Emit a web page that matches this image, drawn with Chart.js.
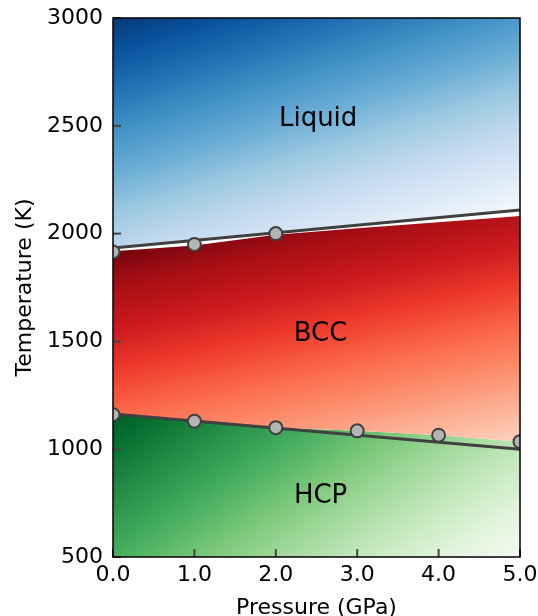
<!DOCTYPE html>
<html>
<head>
<meta charset="utf-8">
<script src="https://cdn.jsdelivr.net/npm/chart.js@4"></script>
<style>
    body { margin: 0; background: #fff; }
    canvas { display: block; }
</style>
</head>
<body>
<canvas id="chart_fases" width="538" height="616"></canvas>
<script>
// eixos
const ticksX = [0, 1, 2, 3, 4, 5];
const ticksY = [500, 1000, 1500, 2000, 2500, 3000];

// pontos calculados
const liquidP = [0, 1, 2];
const liquidT = [1915, 1950, 2000];
const hcpP = [0, 1, 2, 3, 4, 5];
const hcpT = [1160, 1130, 1100, 1085, 1065, 1035];

// retas ajustadas
const fitP = [0, 5];
const fitLiquidT = [1933, 2110];
const fitHcpT = [1163, 1000];

// borda de cima da regiao BCC
const bccTopP = [0, 1, 2, 3, 4, 5];
const bccTopT = [1918, 1945, 1995, 2025, 2053, 2082];

// nomes das fases
const regions = ['Liquid', 'BCC', 'HCP'];
const regionP = [2.52, 2.55, 2.55];
const regionT = [2530, 1532, 780];

const fonte = 'DejaVu Sans';

// colormaps (matplotlib)
const blues = ['#f7fbff', '#deebf7', '#c6dbef', '#9ecae1', '#6baed6', '#4292c6', '#2171b5', '#08519c', '#08306b'];
const reds = ['#fff5f0', '#fee0d2', '#fcbba1', '#fc9272', '#fb6a4a', '#ef3b2c', '#cb181d', '#a50f15', '#67000d'];
const greens = ['#f7fcf5', '#e5f5e0', '#c7e9c0', '#a1d99b', '#74c476', '#41ab5d', '#238b45', '#006d2c', '#00441b'];

function hexRgb(h) {
    return [parseInt(h.slice(1, 3), 16), parseInt(h.slice(3, 5), 16), parseInt(h.slice(5, 7), 16)];
}

function corMapa(mapa, v) {
    v = Math.max(0, Math.min(1, v));
    const p = v * (mapa.length - 1);
    const i = Math.min(Math.floor(p), mapa.length - 2);
    const f = p - i;
    const c1 = hexRgb(mapa[i]);
    const c2 = hexRgb(mapa[i + 1]);
    const c = c1.map((x, k) => Math.round(x + (c2[k] - x) * f));
    return `rgb(${c[0]}, ${c[1]}, ${c[2]})`;
}

// degrade diagonal: v0 no canto (p0, t0), cai a por px em x e b por px em y
function degrade(chart, mapa, p0, t0, v0, a, b) {
    const x0 = chart.scales.x.getPixelForValue(p0);
    const y0 = chart.scales.y.getPixelForValue(t0);
    const k = v0 / (a * a + b * b);
    const g = chart.ctx.createLinearGradient(x0, y0, x0 + a * k, y0 + b * k);
    for (let s = 0; s <= 20; s++) {
        const t = s / 20;
        g.addColorStop(t, corMapa(mapa, v0 * (1 - t)));
    }
    return g;
}

function pts(xs, ys) {
    return xs.map((x, i) => ({ x: x, y: ys[i] }));
}

function semPadding(s) {
    s.paddingTop = 0;
    s.paddingBottom = 0;
    s.paddingLeft = 0;
    s.paddingRight = 0;
}

const molduraPlugin = {
    id: 'moldura',
    afterDraw(chart) {
        const { ctx, chartArea: a, scales } = chart;
        ctx.save();

        // ticks para dentro
        ctx.strokeStyle = '#444';
        ctx.lineWidth = 2;
        ticksY.forEach(v => {
            const y = scales.y.getPixelForValue(v);
            ctx.beginPath();
            ctx.moveTo(a.left, y);
            ctx.lineTo(a.left + 8, y);
            ctx.stroke();
        });
        ticksX.forEach(v => {
            const x = scales.x.getPixelForValue(v);
            ctx.beginPath();
            ctx.moveTo(x, a.bottom);
            ctx.lineTo(x, a.bottom - 8);
            ctx.stroke();
        });

        // borda
        ctx.strokeStyle = '#000';
        ctx.lineWidth = 1.5;
        ctx.strokeRect(a.left, a.top, a.right - a.left, a.bottom - a.top);

        // nomes
        ctx.font = `26px "${fonte}"`;
        ctx.fillStyle = '#000';
        ctx.textAlign = 'center';
        ctx.textBaseline = 'middle';
        regions.forEach((r, i) => {
            ctx.fillText(r, scales.x.getPixelForValue(regionP[i]), scales.y.getPixelForValue(regionT[i]));
        });

        ctx.restore();
    }
};

const ctxFases = document.getElementById('chart_fases');

new Chart(ctxFases, {
    type: 'line',
    data: {
        datasets: [
            {
                data: pts(hcpP, hcpT),
                fill: 'start',
                backgroundColor: c => c.chart.chartArea ? degrade(c.chart, greens, 0, 1163, 0.93, 0.00143, 0.00224) : 'transparent',
                borderColor: 'rgba(0,0,0,0)',
                borderWidth: 0,
                pointRadius: 0,
                order: 5
            },
            {
                data: pts(bccTopP, bccTopT),
                fill: '-1',
                backgroundColor: c => c.chart.chartArea ? degrade(c.chart, reds, 0, 1918, 0.97, 0.00061, 0.00287) : 'transparent',
                borderColor: 'rgba(0,0,0,0)',
                borderWidth: 0,
                pointRadius: 0,
                order: 4
            },
            {
                data: pts(fitP, fitLiquidT),
                fill: 'end',
                backgroundColor: c => c.chart.chartArea ? degrade(c.chart, blues, 0, 3000, 0.97, 0.00091, 0.0030) : 'transparent',
                borderColor: '#404040',
                borderWidth: 3,
                pointRadius: 0,
                clip: 0,
                order: 3
            },
            {
                data: pts(fitP, fitHcpT),
                fill: false,
                borderColor: '#404040',
                borderWidth: 3,
                pointRadius: 0,
                clip: 0,
                order: 2
            },
            {
                data: pts(liquidP, liquidT),
                showLine: false,
                fill: false,
                pointRadius: 6.5,
                pointBackgroundColor: '#b4b4b4',
                pointBorderColor: '#404040',
                pointBorderWidth: 2,
                clip: 0,
                order: 1
            },
            {
                data: pts(hcpP, hcpT),
                showLine: false,
                fill: false,
                pointRadius: 6.5,
                pointBackgroundColor: '#b4b4b4',
                pointBorderColor: '#404040',
                pointBorderWidth: 2,
                clip: 0,
                order: 0
            }
        ]
    },
    options: {
        responsive: false,
        animation: false,
        devicePixelRatio: 1,
        layout: {
            padding: { top: 18, right: 18, left: 0, bottom: 0 }
        },
        elements: {
            line: { tension: 0 }
        },
        scales: {
            x: {
                type: 'linear',
                min: 0,
                max: 5,
                afterBuildTicks: s => { s.ticks = ticksX.map(v => ({ value: v })); },
                afterFit: s => { s.height = 59; semPadding(s); },
                ticks: {
                    color: '#000',
                    padding: 5,
                    autoSkip: false,
                    maxRotation: 0,
                    font: { family: fonte, size: 22 },
                    callback: v => v.toFixed(1)
                },
                grid: { display: false, drawTicks: false },
                border: { display: false },
                title: {
                    display: true,
                    text: 'Pressure (GPa)',
                    color: '#000',
                    font: { family: fonte, size: 22, lineHeight: 0.72 },
                    padding: { top: 0, bottom: 0 }
                }
            },
            y: {
                type: 'linear',
                min: 500,
                max: 3000,
                afterBuildTicks: s => { s.ticks = ticksY.map(v => ({ value: v })); },
                afterFit: s => { s.width = 113; semPadding(s); },
                ticks: {
                    color: '#000',
                    padding: 10,
                    autoSkip: false,
                    font: { family: fonte, size: 22 },
                    callback: v => String(v)
                },
                grid: { display: false, drawTicks: false },
                border: { display: false },
                title: {
                    display: true,
                    text: 'Temperature (K)',
                    color: '#000',
                    font: { family: fonte, size: 22, lineHeight: 0.9 },
                    padding: { top: 15, bottom: 0 }
                }
            }
        },
        plugins: {
            legend: { display: false },
            tooltip: { enabled: false }
        }
    },
    plugins: [molduraPlugin]
});
</script>
</body>
</html>
